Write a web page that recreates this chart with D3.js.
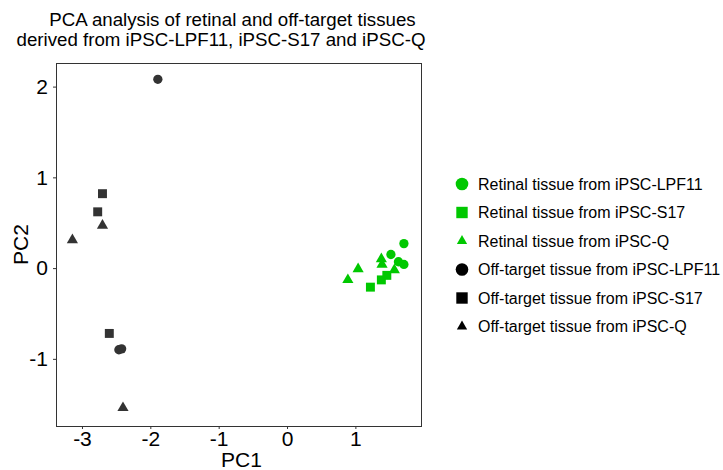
<!DOCTYPE html>
<html>
<head>
<meta charset="utf-8">
<script src="https://cdn.jsdelivr.net/npm/d3@7"></script>
<style>
  body { margin: 0; background: #fff; }
  svg { display: block; font-family: "Liberation Sans", Arial, sans-serif; }
</style>
</head>
<body>
<div id="chart"></div>
<script>
var WIDTH = 723, HEIGHT = 470;

// panel area
var LEFT = 56, RIGHT = 421, TOP = 63, BOTTOM = 426;

// groups for the legend
var groups = [
  "Retinal tissue from iPSC-LPF11",
  "Retinal tissue from iPSC-S17",
  "Retinal tissue from iPSC-Q",
  "Off-target tissue from iPSC-LPF11",
  "Off-target tissue from iPSC-S17",
  "Off-target tissue from iPSC-Q"
];
var groupTissue = ["Retinal", "Retinal", "Retinal", "Off-target", "Off-target", "Off-target"];
var groupLine = ["LPF11", "S17", "Q", "LPF11", "S17", "Q"];

// PC1 / PC2 values, one entry per sample
var pc1 = [1.71, 1.52, 1.63, 1.71,  1.22, 1.38, 1.46,  0.89, 1.04, 1.38, 1.39, 1.57,
           -1.89, -2.46, -2.42,  -2.70, -2.77, -2.60,  -2.70, -3.14, -2.40];
var pc2 = [0.27, 0.15, 0.07, 0.04,  -0.21, -0.13, -0.08,  -0.13, -0.01, 0.10, 0.04, -0.02,
           2.08, -0.90, -0.89,  0.82, 0.62, -0.72,  0.47, 0.31, -1.54];
var sampleGroup = [0, 0, 0, 0,  1, 1, 1,  2, 2, 2, 2, 2,
                   3, 3, 3,  4, 4, 4,  5, 5, 5];

var xTicks = [-3, -2, -1, 0, 1];
var yTicks = [-1, 0, 1, 2];

var data = pc1.map(function(d, i) {
  return { pc1: d, pc2: pc2[i], g: sampleGroup[i] };
});

var colorScale = d3.scaleOrdinal().domain(["Retinal", "Off-target"]).range(["#00c800", "#333333"]);
var legendColor = d3.scaleOrdinal().domain(["Retinal", "Off-target"]).range(["#00c800", "#000000"]);
var shapeScale = d3.scaleOrdinal().domain(["LPF11", "S17", "Q"])
  .range([d3.symbolCircle, d3.symbolSquare, d3.symbolTriangle]);
var sizeScale = d3.scaleOrdinal().domain(["LPF11", "S17", "Q"]).range([68, 80, 54]);
var legendSize = d3.scaleOrdinal().domain(["LPF11", "S17", "Q"]).range([125, 130, 46]);

var svg = d3.select("#chart").append("svg")
  .attr("width", WIDTH)
  .attr("height", HEIGHT);

svg.append("rect").attr("width", WIDTH).attr("height", HEIGHT).attr("fill", "#fff");

var x = d3.scaleLinear().domain([-3.38, 1.96]).range([LEFT, RIGHT]);
var y = d3.scaleLinear().domain([-1.74, 2.26]).range([BOTTOM, TOP]);

// title
var title = svg.append("text")
  .attr("text-anchor", "middle")
  .style("font-size", "18.7px")
  .attr("fill", "#000");
title.append("tspan").attr("x", 232.5).attr("y", 26).text("PCA analysis of retinal and off-target tissues");
title.append("tspan").attr("x", 221).attr("y", 46).text("derived from iPSC-LPF11, iPSC-S17 and iPSC-Q");

// axes
var xAxis = svg.append("g")
  .attr("transform", "translate(0," + BOTTOM + ")")
  .call(d3.axisBottom(x).tickValues(xTicks).tickSize(3).tickPadding(2).tickFormat(d3.format("d")));
var yAxis = svg.append("g")
  .attr("transform", "translate(" + LEFT + ",0)")
  .call(d3.axisLeft(y).tickValues(yTicks).tickSize(3).tickPadding(5).tickFormat(d3.format("d")));

[xAxis, yAxis].forEach(function(a) {
  a.select(".domain").remove();
  a.selectAll(".tick line").attr("stroke", "#333");
  a.selectAll(".tick text")
    .attr("fill", "#000")
    .style("font-size", "21px")
    .style("font-family", "'Liberation Sans', Arial, sans-serif")
    .text(function(d) { return d < 0 ? "-" + Math.abs(d) : d; });
});

// panel border
svg.append("rect")
  .attr("x", LEFT + 0.5).attr("y", TOP + 0.5)
  .attr("width", RIGHT - LEFT).attr("height", BOTTOM - TOP)
  .attr("fill", "none")
  .attr("stroke", "#333")
  .attr("stroke-width", 1);

// axis titles
svg.append("text")
  .attr("x", (LEFT + RIGHT) / 2 + 3)
  .attr("y", 467)
  .attr("text-anchor", "middle")
  .style("font-size", "21px")
  .text("PC1");
svg.append("text")
  .attr("transform", "translate(28," + ((TOP + BOTTOM) / 2) + ") rotate(-90)")
  .attr("text-anchor", "middle")
  .style("font-size", "21px")
  .text("PC2");

// points
svg.append("g").selectAll("path")
  .data(data)
  .enter()
  .append("path")
  .attr("transform", function(d) { return "translate(" + x(d.pc1) + "," + y(d.pc2) + ")"; })
  .attr("d", function(d) {
    return d3.symbol().type(shapeScale(groupLine[d.g])).size(sizeScale(groupLine[d.g]))();
  })
  .attr("fill", function(d) { return colorScale(groupTissue[d.g]); });

// legend
var legend = svg.append("g").attr("transform", "translate(462,184)");
var rows = legend.selectAll("g")
  .data(groups)
  .enter()
  .append("g")
  .attr("transform", function(d, i) { return "translate(0," + (i * 28.5) + ")"; });

rows.append("path")
  .attr("d", function(d, i) {
    return d3.symbol().type(shapeScale(groupLine[i])).size(legendSize(groupLine[i]))();
  })
  .attr("fill", function(d, i) { return legendColor(groupTissue[i]); });

rows.append("text")
  .attr("x", 16)
  .attr("y", 5.5)
  .style("font-size", "16px")
  .attr("fill", "#000")
  .text(function(d) { return d; });
</script>
</body>
</html>
